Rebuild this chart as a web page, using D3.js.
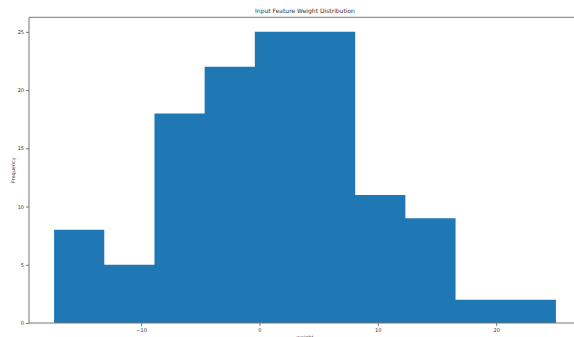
<!DOCTYPE html>
<meta charset="utf-8">
<head>
  <title>Input Feature Weight Distribution</title>
</head>
<style>
body { margin: 0; background: #fff; }
text { font-family: "DejaVu Sans", sans-serif; fill: #333; }
.axis path, .axis line { stroke: #777; }
</style>
<body>
  <svg width="574" height="337"></svg>

  <script src="https://cdnjs.cloudflare.com/ajax/libs/d3/7.8.5/d3.min.js"></script>
  <script>
// histogram bin edges (weight) and counts
var binEdges = [-17.35, -13.11, -8.87, -4.63, -0.39, 3.85, 8.09, 12.33, 16.57, 20.81, 25.05];
var counts = [8, 5, 18, 22, 25, 25, 11, 9, 2, 2];
var xTicks = [-10, 0, 10, 20];
var yTicks = [0, 5, 10, 15, 20, 25];

var svg = d3.select('svg');
var plotLeft = 29, plotRight = 581, plotTop = 17.3, plotBottom = 323;

var span = binEdges[binEdges.length - 1] - binEdges[0];
var x = d3.scaleLinear()
  .domain([binEdges[0] - span * 0.05, binEdges[binEdges.length - 1] + span * 0.05])
  .range([plotLeft, plotRight]);
var y = d3.scaleLinear()
  .domain([0, d3.max(counts) * 1.05])
  .range([plotBottom, plotTop]);

var bins = counts.map(function(c, i) {
  return { x0: binEdges[i], x1: binEdges[i + 1], n: c };
});

// one step outline so neighbouring bars show no seam
var area = d3.area()
  .curve(d3.curveStepAfter)
  .x(function(d) { return x(d.x); })
  .y0(y(0))
  .y1(function(d) { return y(d.n); });

var steps = bins.map(function(b) { return { x: b.x0, n: b.n }; });
steps.push({ x: bins[bins.length - 1].x1, n: 0 });
steps.unshift({ x: bins[0].x0, n: 0 });

svg.append('path')
  .datum(steps)
  .attr('d', area)
  .attr('fill', '#1f77b4');

// spines: left, top, bottom (right one is off the edge)
svg.append('path')
  .attr('d', 'M' + plotRight + ',' + plotTop + 'H' + plotLeft + 'V' + plotBottom + 'H' + plotRight)
  .attr('fill', 'none')
  .attr('stroke', '#777')
  .attr('stroke-width', 1);

var fmt = function(d) { return d < 0 ? '\u2212' + Math.abs(d) : d; };

var xAxis = svg.append('g')
  .attr('class', 'axis')
  .attr('transform', 'translate(0,' + plotBottom + ')')
  .call(d3.axisBottom(x).tickValues(xTicks).tickFormat(fmt).tickSize(3).tickPadding(2));
xAxis.select('.domain').remove();
xAxis.selectAll('text').style('font-size', '5px');

var yAxis = svg.append('g')
  .attr('class', 'axis')
  .attr('transform', 'translate(' + plotLeft + ',0)')
  .call(d3.axisLeft(y).tickValues(yTicks).tickSize(3).tickPadding(2));
yAxis.select('.domain').remove();
yAxis.selectAll('text').style('font-size', '5px');

svg.append('text')
  .attr('x', (plotLeft + plotRight) / 2)
  .attr('y', 13)
  .attr('text-anchor', 'middle')
  .style('font-size', '6px')
  .text('Input Feature Weight Distribution');

svg.append('text')
  .attr('x', (plotLeft + plotRight) / 2)
  .attr('y', 339)
  .attr('text-anchor', 'middle')
  .style('font-size', '5px')
  .text('weight');

svg.append('text')
  .attr('transform', 'translate(15,' + (plotTop + plotBottom) / 2 + ') rotate(-90)')
  .attr('text-anchor', 'middle')
  .style('font-size', '5px')
  .text('Frequency');
  </script>
</body>
</html>
